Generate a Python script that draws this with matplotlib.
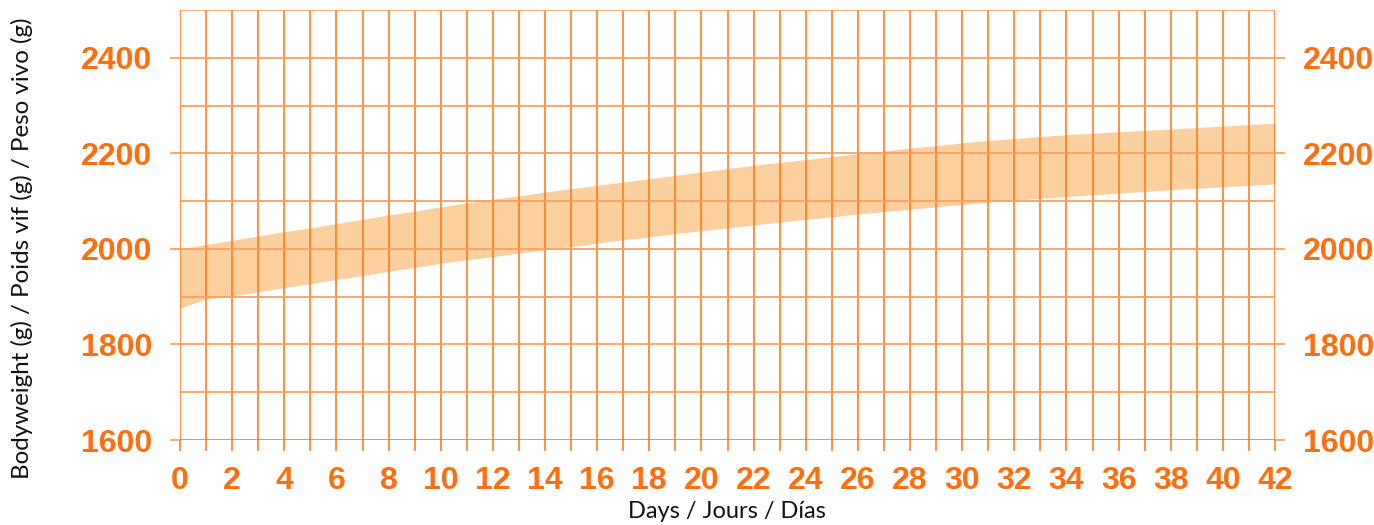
import matplotlib
matplotlib.use("Agg")
import matplotlib.pyplot as plt

days = list(range(0, 43))
upper = [2000, 2009, 2018, 2027, 2036, 2044, 2053, 2062, 2071, 2079, 2088,
         2096, 2104, 2111, 2119, 2126, 2133, 2140, 2147, 2154, 2161, 2168,
         2175, 2181, 2187, 2193, 2199, 2205, 2211, 2216, 2222, 2227, 2231,
         2235, 2239, 2242, 2245, 2248, 2251, 2254, 2257, 2260, 2263]
lower = [1876, 1895, 1902, 1910, 1919, 1927, 1936, 1944, 1953, 1961, 1970,
         1977, 1984, 1991, 1998, 2005, 2012, 2019, 2025, 2032, 2038, 2044,
         2050, 2056, 2062, 2067, 2073, 2078, 2083, 2088, 2093, 2098, 2102,
         2106, 2110, 2113, 2117, 2120, 2124, 2127, 2130, 2133, 2136]
x_ticks = list(range(0, 43, 2))
y_ticks = [1600, 1800, 2000, 2200, 2400]
y_grid = list(range(1700, 2501, 100))

ORANGE = "#FF6F0F"
GRID_V = "#FF7314"
GRID_H = "#FFA060"
BAND = "#FBCF9E"

fig = plt.figure(figsize=(13.74, 5.25), dpi=100)
ax = fig.add_axes([180/1374, 85/525, 1095/1374, 430/525])
ax.fill_between(days, lower, upper, color=BAND, lw=0, zorder=1)

ax.set_xlim(0, 42)
ax.set_ylim(1600, 2500)

for d in days:
    ax.axvline(d, color=GRID_V, lw=1.1, zorder=2)
for v in y_grid:
    ax.axhline(v, color=GRID_H, lw=1.3, zorder=2)
ax.axhline(1600, color=ORANGE, lw=1.8, zorder=3)

for s in ax.spines.values():
    s.set_visible(False)

tick_font = dict(family="Liberation Sans", weight="bold", size=23, color=ORANGE)

ax.set_xticks(days, minor=True)
ax.set_xticks(x_ticks)
ax.set_xticklabels([str(t) for t in x_ticks], **tick_font)
ax.tick_params(axis='x', which='both', length=8, width=1.1, color=GRID_V, pad=11)
ax.set_yticks(y_ticks)
ax.set_yticklabels([str(t) for t in y_ticks], **tick_font)
ax.tick_params(axis='y', which='both', length=7.2, width=1.3, color=GRID_H, pad=13)

ax2 = ax.twinx()
ax2.set_ylim(1600, 2500)
ax2.set_yticks(y_ticks)
ax2.set_yticklabels([str(t) for t in y_ticks], **tick_font)
ax2.tick_params(axis='y', length=7.2, width=1.3, color=GRID_H, pad=13)
for s in ax2.spines.values():
    s.set_visible(False)

fig.text(727/1374, 1 - 511/525, "Days / Jours / Días", fontsize=17, family="Lato",
         color="#111111", ha="center", va="center")
fig.text(22/1374, 1 - 248/525, "Bodyweight (g) / Poids vif (g) / Peso vivo (g)",
         fontsize=17.4, family="Lato", color="#111111", ha="center", va="center",
         rotation=90)

fig.savefig("out.png", dpi=100)
